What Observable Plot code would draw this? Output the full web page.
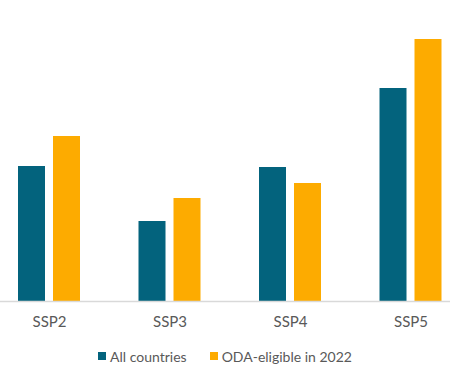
<!DOCTYPE html>
<html>
<head>
<meta charset="utf-8">
<script src="https://cdn.jsdelivr.net/npm/d3@7"></script>
<script src="https://cdn.jsdelivr.net/npm/@observablehq/plot@0.6"></script>
<style>
  html, body { margin: 0; padding: 0; background: #fff; }
  #chart { width: 450px; font-family: Lato, "Open Sans", sans-serif; }
  #legend { display: flex; justify-content: center; align-items: center; height: 20px; padding-top: 10px;
            font-family: Lato, "Open Sans", sans-serif; font-size: 14px; color: #595959; }
  #legend .item { display: inline-flex; align-items: center; margin: 0 11.5px; }
  #legend .sw { width: 8px; height: 8px; margin-right: 4px; display: inline-block; }
</style>
</head>
<body>
<div id="chart"></div>
<div id="legend"></div>
<script>
const scenarios = ["SSP2", "SSP3", "SSP4", "SSP5"];
const series = ["All countries", "ODA-eligible in 2022"];
const allCountries = [1.35, 0.80, 1.34, 2.13];
const odaEligible = [1.65, 1.03, 1.18, 2.62];
const colors = ["#03637d", "#fdab00"];

const data = scenarios.flatMap((s, i) => [
  {scenario: s, series: series[0], value: allCountries[i]},
  {scenario: s, series: series[1], value: odaEligible[i]}
]);

const plot = Plot.plot({
  width: 450,
  height: 336,
  marginTop: 0,
  marginBottom: 35,
  marginLeft: 0,
  marginRight: 0,
  style: {fontFamily: "Lato, 'Open Sans', sans-serif", background: "#fff"},
  x: {domain: scenarios, range: [-11.25, 470.75], padding: 0, round: false, axis: null},
  y: {domain: [0, 3.01], axis: null},
  color: {domain: series, range: colors},
  marks: [
    Plot.barY(data.filter(d => d.series === series[0]), {
      x: "scenario", y: "value", fill: "series", insetLeft: 29.25, insetRight: 64.25
    }),
    Plot.barY(data.filter(d => d.series === series[1]), {
      x: "scenario", y: "value", fill: "series", insetLeft: 64.25, insetRight: 29.25
    }),
    Plot.ruleY([0], {stroke: "#d9d9d9", strokeWidth: 1.3}),
    Plot.axisX({anchor: "bottom", tickSize: 0, tickPadding: 15, fontSize: 15, fill: "#595959", label: null})
  ]
});
document.getElementById("chart").appendChild(plot);

const legend = document.getElementById("legend");
series.forEach((s, i) => {
  const item = document.createElement("span");
  item.className = "item";
  const sw = document.createElement("span");
  sw.className = "sw";
  sw.style.background = colors[i];
  item.appendChild(sw);
  item.appendChild(document.createTextNode(s));
  legend.appendChild(item);
});
</script>
</body>
</html>
